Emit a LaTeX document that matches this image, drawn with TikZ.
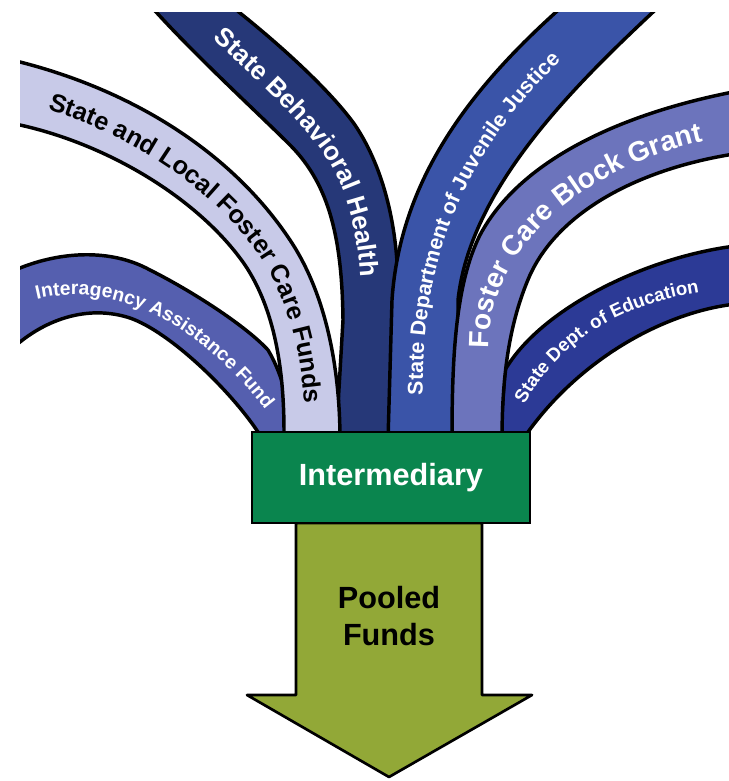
\documentclass[tikz,border=0pt]{standalone}
\usepackage{fontspec}
\setmainfont{Liberation Sans}
\usetikzlibrary{decorations.text}
\definecolor{cInter}{HTML}{555FAF}
\definecolor{cLocal}{HTML}{C8CAE8}
\definecolor{cBeh}{HTML}{263878}
\definecolor{cJuv}{HTML}{3A54A8}
\definecolor{cBlock}{HTML}{6C74BC}
\definecolor{cEdu}{HTML}{2C3A96}
\definecolor{cMid}{HTML}{0A854E}
\definecolor{cArrow}{HTML}{92A837}
\begin{document}
\begin{tikzpicture}[x=0.75pt,y=-0.75pt,
  band/.style={draw=black,line width=2.6pt,line join=round},
  lbl/.style={decorate,decoration={text along path,text align=center,text color=#1}}]
\useasboundingbox (0,0) rectangle (728,781);
% State Behavioral Health
\path[band,fill=cBeh] (140,-5) -- (157,13) .. controls (200,60) and (260,115) .. (290,145) .. controls (330,185) and (342,240) .. (343,320) -- (336,440) -- (400,440) -- (398,290) .. controls (398,230) and (385,170) .. (355,125) .. controls (330,90) and (280,45) .. (240,13) -- (220,-5) -- cycle;
% State Department of Juvenile Justice
\path[band,fill=cJuv] (575,-5) -- (555,13) .. controls (470,90) and (400,180) .. (392,300) -- (388,440) -- (460,440) -- (458,300) .. controls (470,190) and (570,90) .. (652,13) -- (672,-5) -- cycle;
% Interagency Assistance Fund
\path[band,fill=cInter] (0,275) -- (20,268) .. controls (60,252) and (110,248) .. (150,270) .. controls (190,290) and (245,325) .. (268,350) .. controls (280,370) and (290,400) .. (292,440) -- (262,440) -- (258,432) .. controls (230,390) and (170,332) .. (130,318) .. controls (90,305) and (50,318) .. (20,342) -- (0,358) -- cycle;
% State and Local Foster Care Funds
\path[band,fill=cLocal] (0,57) -- (20,62) .. controls (130,90) and (230,150) .. (290,240) .. controls (330,300) and (340,380) .. (340,440) -- (284,440) -- (284,432) .. controls (284,370) and (275,310) .. (245,265) .. controls (200,200) and (110,145) .. (20,125) -- (0,121) -- cycle;
% State Dept. of Education
\path[band,fill=cEdu] (745,245) -- (728,247) .. controls (640,260) and (540,310) .. (505,370) -- (500,440) -- (528,440) -- (528,432) .. controls (580,360) and (660,315) .. (728,305) -- (745,303) -- cycle;
% Foster Care Block Grant
\path[band,fill=cBlock] (745,90) -- (728,93) .. controls (620,115) and (520,160) .. (480,235) .. controls (455,285) and (452,360) .. (452,440) -- (502,440) .. controls (502,380) and (508,325) .. (530,275) .. controls (560,210) and (640,170) .. (728,155) -- (745,152) -- cycle;
% crop masks
\fill[white] (-30,-30) rectangle (760,12.5);
\fill[white] (-30,-30) rectangle (19.5,500);
% labels along the bands
\path[lbl=black,decoration={text={|\fontsize{19pt}{19pt}\selectfont\bfseries|State and Local Foster Care Funds}}] (20,102) .. controls (118,126) and (209,182) .. (261,258) .. controls (295,309) and (305,375) .. (305,432);
\path[lbl=white,decoration={text={|\fontsize{19.5pt}{19.5pt}\selectfont\bfseries|State Behavioral Health}}] (192,20) .. controls (234,58) and (288,108) .. (314,141) .. controls (348,182) and (361,235) .. (361,305);
\path[lbl=white,decoration={text={|\fontsize{16pt}{16pt}\selectfont\bfseries|State Department of Juvenile Justice}}] (423,428) .. controls (420,305) and (430,175) .. (585,38);
\path[lbl=white,decoration={text={|\fontsize{21pt}{21pt}\selectfont\bfseries|Foster Care Block Grant}}] (489,345) .. controls (489,250) and (580,170) .. (700,142);
\path[lbl=white,decoration={text={|\fontsize{14pt}{14pt}\selectfont\bfseries|State Dept. of Education}}] (524,405) .. controls (560,340) and (620,305) .. (700,292);
\path[lbl=white,decoration={text={|\fontsize{14.5pt}{14.5pt}\selectfont\bfseries|Interagency Assistance Fund}}] (42,298) .. controls (120,282) and (200,327) .. (262,406);
% arrow
\draw[fill=cArrow,line width=2pt,line join=round] (296,523) -- (296,695) -- (247,695) -- (389,777) -- (532,695) -- (482,695) -- (482,523) -- cycle;
\node[font=\fontsize{23pt}{28pt}\selectfont\bfseries,align=center] (pooled) at (389,616) {Pooled\\Funds};
% intermediary box
\node[draw=black,line width=2.2pt,fill=cMid,minimum width=208.5pt,minimum height=68.25pt,inner sep=0pt,text=white,font=\fontsize{23pt}{23pt}\selectfont\bfseries] (inter) at (391,477.5) {Intermediary};
\end{tikzpicture}
\end{document}
